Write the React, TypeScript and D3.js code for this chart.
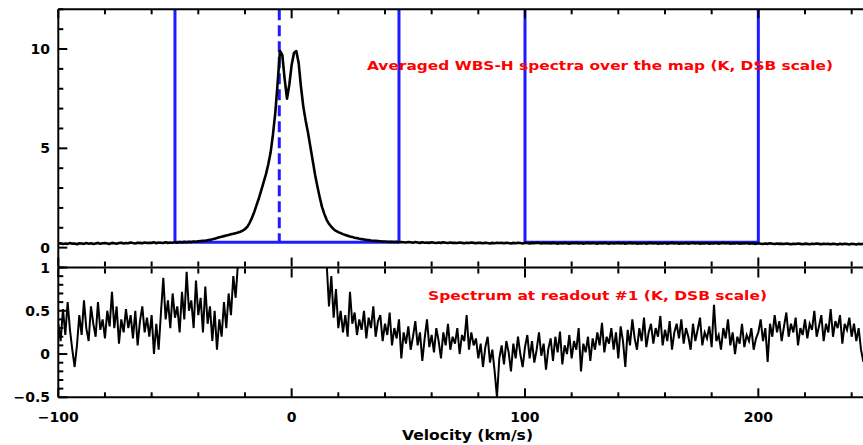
import React from "react";
import * as d3 from "d3";

// channel grid of both spectra: velocity of first channel and channel width (km/s)
const V0 = -100;
const DV = 1;

// Averaged WBS-H spectrum (K), channels -100 .. 250 km/s
const avgSpectrum = [
  0.20,0.22,0.18,0.21,0.19,0.23,0.20,0.21,0.17,0.22,
  0.21,0.19,0.23,0.20,0.22,0.18,0.21,0.24,0.20,0.22,
  0.23,0.21,0.19,0.24,0.22,0.20,0.23,0.25,0.21,0.23,
  0.22,0.26,0.23,0.21,0.25,0.24,0.22,0.26,0.23,0.25,
  0.24,0.27,0.22,0.26,0.25,0.23,0.27,0.24,0.26,0.25,
  0.27,0.25,0.28,0.26,0.29,0.27,0.30,0.28,0.31,0.30,
  0.32,0.33,0.34,0.35,0.37,0.39,0.42,0.45,0.49,0.52,
  0.55,0.58,0.61,0.64,0.67,0.70,0.73,0.76,0.80,0.86,
  0.93,1.05,1.25,1.50,1.80,2.15,2.50,2.90,3.30,3.70,
  4.20,4.80,5.70,6.80,8.30,9.90,9.70,8.50,7.50,8.20,
  9.20,9.80,9.90,9.30,8.10,7.10,6.40,5.80,5.10,4.40,
  3.70,3.10,2.55,2.05,1.70,1.40,1.20,1.05,0.93,0.84,
  0.78,0.73,0.68,0.64,0.60,0.56,0.53,0.50,0.48,0.45,
  0.43,0.41,0.39,0.38,0.36,0.35,0.34,0.33,0.32,0.31,
  0.31,0.30,0.29,0.30,0.28,0.29,0.27,0.28,0.27,0.26,
  0.28,0.27,0.25,0.28,0.26,0.24,0.27,0.25,0.26,0.24,
  0.27,0.25,0.23,0.26,0.24,0.27,0.25,0.23,0.26,0.24,
  0.25,0.23,0.26,0.24,0.22,0.25,0.23,0.26,0.24,0.22,
  0.25,0.24,0.22,0.25,0.23,0.21,0.24,0.22,0.25,0.23,
  0.24,0.22,0.25,0.23,0.21,0.24,0.22,0.25,0.23,0.21,
  0.24,0.23,0.21,0.24,0.22,0.25,0.23,0.21,0.24,0.22,
  0.23,0.21,0.24,0.22,0.20,0.23,0.21,0.24,0.22,0.20,
  0.23,0.22,0.24,0.21,0.23,0.20,0.22,0.24,0.21,0.23,
  0.22,0.20,0.23,0.21,0.24,0.22,0.20,0.23,0.21,0.22,
  0.24,0.21,0.23,0.20,0.22,0.24,0.21,0.23,0.20,0.22,
  0.21,0.23,0.20,0.22,0.24,0.21,0.23,0.20,0.22,0.21,
  0.23,0.20,0.22,0.24,0.21,0.23,0.20,0.22,0.21,0.23,
  0.20,0.22,0.24,0.21,0.23,0.20,0.22,0.21,0.23,0.20,
  0.22,0.21,0.23,0.20,0.22,0.24,0.21,0.23,0.20,0.22,
  0.21,0.23,0.20,0.22,0.21,0.23,0.20,0.22,0.21,0.19,
  0.22,0.20,0.18,0.21,0.19,0.22,0.20,0.18,0.21,0.19,
  0.20,0.18,0.21,0.19,0.17,0.20,0.18,0.21,0.19,0.17,
  0.20,0.19,0.17,0.20,0.18,0.21,0.19,0.17,0.20,0.18,
  0.19,0.17,0.20,0.18,0.16,0.19,0.17,0.20,0.18,0.16,
  0.19,0.18,0.16,0.19,0.17,0.20,0.18,0.16,0.19,0.17,
  0.18,
];

// Spectrum at readout #1 (K), channels -100 .. 250 km/s
const readoutSpectrum = [
  0.35,0.15,0.52,0.22,0.60,0.28,0.05,-0.15,0.10,0.45,
  0.22,0.62,0.30,0.15,0.55,0.35,0.20,0.60,0.28,0.40,
  0.18,0.50,0.32,0.72,0.30,0.55,0.12,0.40,0.25,0.52,
  0.30,0.45,0.18,0.50,0.10,0.38,0.55,0.25,0.42,0.20,
  0.45,0.00,0.35,0.05,0.48,0.88,0.40,0.62,0.30,0.70,
  0.42,0.55,0.25,0.72,0.40,0.95,0.50,0.62,0.30,0.85,
  0.45,0.65,0.25,0.78,0.35,0.55,0.15,0.50,0.05,0.40,
  0.20,0.60,0.30,0.70,0.45,0.90,0.65,1.05,1.30,1.60,
  2.0,2.5,3.0,3.5,4.0,4.5,5.0,5.5,6.0,6.5,
  7.0,7.5,8.0,8.5,9.0,9.5,9.5,9.0,8.0,8.5,
  9.0,9.5,9.5,9.0,8.0,7.0,6.0,5.0,4.5,4.0,
  3.5,3.0,2.5,2.0,1.5,1.05,0.55,0.90,0.42,0.75,
  0.30,0.50,0.25,0.45,0.20,0.72,0.35,0.48,0.22,0.40,
  0.28,0.50,0.18,0.42,0.30,0.55,0.20,0.38,0.45,0.15,
  0.35,0.22,0.48,0.10,0.30,0.18,0.40,-0.05,0.25,0.12,
  0.32,0.05,0.20,0.38,0.10,0.25,-0.08,0.18,0.40,0.08,
  0.22,0.02,0.30,0.15,-0.05,0.25,0.10,0.35,0.05,0.20,
  0.12,0.30,0.00,0.22,0.15,0.45,0.05,0.25,0.10,0.18,
  -0.05,0.12,-0.15,0.08,0.20,-0.10,0.05,-0.20,-0.50,-0.05,
  0.10,-0.12,0.15,0.02,-0.20,0.12,-0.05,0.20,0.00,-0.15,
  0.08,0.22,-0.05,0.15,-0.10,0.05,0.25,-0.02,0.12,-0.18,
  0.06,0.18,-0.08,0.20,0.02,0.26,-0.12,0.10,0.00,0.22,
  -0.05,0.15,0.05,0.30,-0.20,0.12,0.02,0.20,-0.08,0.18,
  0.05,0.25,0.10,0.36,0.02,0.20,0.12,0.30,0.05,0.25,
  -0.05,0.32,0.15,-0.15,0.28,0.10,0.40,0.18,0.05,0.30,
  0.15,0.42,0.08,0.25,0.35,0.12,0.30,0.20,0.44,0.10,
  0.28,0.15,0.38,0.05,0.25,0.35,0.18,0.40,0.12,0.30,
  0.20,0.05,0.35,0.15,0.28,0.42,0.10,0.25,0.18,0.32,
  0.08,0.57,0.15,0.22,0.05,0.30,0.18,0.40,0.10,0.25,
  0.00,0.20,0.12,0.35,0.08,0.22,0.15,0.30,0.05,0.18,
  0.25,0.40,0.15,0.30,-0.09,0.35,0.20,0.45,0.25,0.38,
  0.15,0.32,0.48,0.20,0.35,0.25,0.42,0.10,0.30,0.22,
  0.40,0.18,0.35,0.28,0.50,0.20,0.32,0.45,0.15,0.35,
  0.25,0.52,0.20,0.38,0.30,0.45,0.12,0.35,0.28,0.42,
  0.20,0.35,0.15,0.30,0.05,-0.09,0.10,0.25,0.20,0.30,
  0.22,
];

// baseline-fit windows (km/s), baseline level (K) and line centre (km/s)
const fitWindows: [number, number][] = [[-50, 46], [100, 200]];
const baselineLevel = 0.27;
const lineCenter = -5.3;

const xDomain = [-100, 250];
const topDomain = [-1, 12];
const botDomain = [-0.5, 1];
const xMajorTicks = [-100, 0, 100, 200];
const xMajorLabels = ["\u2212100", "0", "100", "200"];
const topMajorTicks = [0, 5, 10];
const topMajorLabels = ["0", "5", "10"];
const botMajorTicks = [-0.5, 0, 0.5, 1];
const botMajorLabels = ["\u22120.5", "0", "0.5", "1"];
const topTitle = "Averaged WBS-H spectra over the map (K, DSB scale)";
const botTitle = "Spectrum at readout #1 (K, DSB scale)";
const xTitle = "Velocity (km/s)";

const FONT = "'DejaVu Sans', sans-serif";
const BLUE = "#1c1cff";

export default function App() {
  const W = 863;
  const H = 445;
  const left = 58.3;
  const right = 875;
  const topY0 = 9.3;
  const midY = 267.5;
  const botY1 = 397.3;

  const x = d3.scaleLinear().domain(xDomain).range([left, right]);
  const yT = d3.scaleLinear().domain(topDomain).range([midY, topY0]);
  const yB = d3.scaleLinear().domain(botDomain).range([botY1, midY]);

  const vel = (i: number) => V0 + i * DV;
  const topLine = d3.line<number>().x((_, i) => x(vel(i))).y((d) => yT(d));
  const botLine = d3.line<number>().x((_, i) => x(vel(i))).y((d) => yB(d));

  const xMinor = d3.range(xDomain[0], xDomain[1] + 1, 20).filter((v) => v % 100 !== 0);
  const topMinor = d3.range(-1, 12.01, 1).filter((v) => v % 5 !== 0);
  const botMinor = d3.range(-5, 11, 1).map((k) => k / 10).filter((v) => Math.abs((v * 10) % 5) > 0.01);

  const majorLen = 9;
  const minorLen = 5;
  const axisStroke = { stroke: "#000", strokeWidth: 2 };

  const xTicksAt = (yPos: number, dir: number, key: string) => (
    <g key={key}>
      {xMajorTicks.map((v) => (
        <line key={"M" + v} x1={x(v)} x2={x(v)} y1={yPos} y2={yPos + dir * majorLen} {...axisStroke} />
      ))}
      {xMinor.map((v) => (
        <line key={"m" + v} x1={x(v)} x2={x(v)} y1={yPos} y2={yPos + dir * minorLen} {...axisStroke} />
      ))}
    </g>
  );

  return (
    <svg
      width={W}
      height={H}
      style={{ position: "absolute", left: 0, top: 0, background: "#fff" }}
    >
      <defs>
        <clipPath id="clipTop">
          <rect x={left} y={topY0} width={right - left} height={midY - topY0} />
        </clipPath>
        <clipPath id="clipBot">
          <rect x={left} y={midY} width={right - left} height={botY1 - midY} />
        </clipPath>
      </defs>
      <rect width={W} height={H} fill="#fff" />

      {/* top panel: baseline windows */}
      <g clipPath="url(#clipTop)">
        {fitWindows.map(([a, b], k) => (
          <g key={"w" + k} stroke={BLUE} strokeWidth={3} fill="none">
            <line x1={x(a)} x2={x(a)} y1={topY0} y2={yT(baselineLevel)} />
            <line x1={x(b)} x2={x(b)} y1={topY0} y2={yT(baselineLevel)} />
            <line x1={x(a)} x2={x(b)} y1={yT(baselineLevel)} y2={yT(baselineLevel)} />
          </g>
        ))}
        <line
          x1={x(lineCenter)}
          x2={x(lineCenter)}
          y1={topY0}
          y2={yT(baselineLevel)}
          stroke={BLUE}
          strokeWidth={3}
          strokeDasharray="11,5"
        />
        <path d={topLine(avgSpectrum) || ""} fill="none" stroke="#000" strokeWidth={2.6} strokeLinejoin="round" />
      </g>

      {/* bottom panel spectrum */}
      <g clipPath="url(#clipBot)">
        <path d={botLine(readoutSpectrum) || ""} fill="none" stroke="#000" strokeWidth={2} />
      </g>

      {/* frames */}
      <line x1={left} x2={right} y1={topY0} y2={topY0} {...axisStroke} />
      <line x1={left} x2={right} y1={midY} y2={midY} {...axisStroke} />
      <line x1={left} x2={right} y1={botY1} y2={botY1} {...axisStroke} />
      <line x1={left} x2={left} y1={topY0} y2={botY1} {...axisStroke} />
      <line x1={right} x2={right} y1={topY0} y2={botY1} {...axisStroke} />

      {xTicksAt(topY0, 1, "t1")}
      {xTicksAt(midY - 1, -1, "t2")}
      {xTicksAt(midY + 1, 1, "t3")}
      {xTicksAt(botY1, -1, "t4")}

      {/* y ticks */}
      {topMajorTicks.map((v) => (
        <line key={"tM" + v} x1={left} x2={left + majorLen} y1={yT(v)} y2={yT(v)} {...axisStroke} />
      ))}
      {topMinor.map((v) => (
        <line key={"tm" + v} x1={left} x2={left + minorLen} y1={yT(v)} y2={yT(v)} {...axisStroke} />
      ))}
      {botMajorTicks.map((v) => (
        <line key={"bM" + v} x1={left} x2={left + majorLen} y1={yB(v)} y2={yB(v)} {...axisStroke} />
      ))}
      {botMinor.map((v) => (
        <line key={"bm" + v} x1={left} x2={left + minorLen} y1={yB(v)} y2={yB(v)} {...axisStroke} />
      ))}

      {/* labels */}
      <g fontFamily={FONT} fontWeight="bold" fontSize={14} fill="#000">
        {topMajorTicks.map((v, i) => (
          <text key={"tl" + v} x={50} y={yT(v) + 5} textAnchor="end">
            {topMajorLabels[i]}
          </text>
        ))}
        {botMajorTicks.map((v, i) => (
          <text key={"bl" + v} x={50} y={yB(v) + 5} textAnchor="end">
            {botMajorLabels[i]}
          </text>
        ))}
        {xMajorTicks.map((v, i) => (
          <text key={"xl" + v} x={x(v)} y={422} textAnchor="middle">
            {xMajorLabels[i]}
          </text>
        ))}
        <text x={402} y={440} textLength={131} lengthAdjust="spacingAndGlyphs">
          {xTitle}
        </text>
      </g>

      <g fontFamily={FONT} fontWeight="bold" fontSize={13} fill="#ff0000">
        <text x={367} y={70} textLength={466} lengthAdjust="spacingAndGlyphs">
          {topTitle}
        </text>
        <text x={428} y={300} textLength={339} lengthAdjust="spacingAndGlyphs">
          {botTitle}
        </text>
      </g>
    </svg>
  );
}
